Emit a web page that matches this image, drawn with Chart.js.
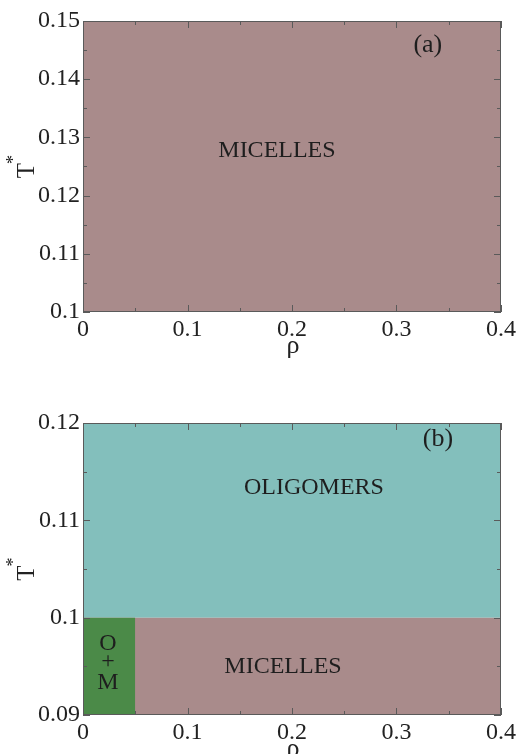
<!DOCTYPE html>
<html>
<head>
<meta charset="utf-8">
<script src="https://cdn.jsdelivr.net/npm/chart.js@4.4.0/dist/chart.umd.min.js"></script>
<style>
  html, body { margin: 0; padding: 0; background: #ffffff; }
  #wrap { position: relative; width: 516px; height: 754px; overflow: hidden; }
  .box { position: absolute; left: 0; width: 516px; }
</style>
</head>
<body>
<div id="wrap">
  <div class="box" style="top:0px;height:375px;"><canvas id="chartA"></canvas></div>
  <div class="box" style="top:380px;height:374px;"><canvas id="chartB"></canvas></div>
</div>
<script>
// axes
const rhoMin = 0;
const rhoMax = 0.4;
const rhoStep = 0.1;
const tempMinA = 0.1;
const tempMaxA = 0.15;
const tempMinB = 0.09;
const tempMaxB = 0.12;
const tempStep = 0.01;

// phase boundaries
const transitionT = 0.1;      // oligomers above, micelles below (panel b)
const omRhoLimit = 0.05;      // O+M coexistence for rho < 0.05

// region colours
const micellesColor = "#A98B8B";
const oligomersColor = "#83BFBC";
const omColor = "#4B8A48";

const serif = "'Times New Roman', 'Liberation Serif', Times, serif";
const frameColor = "#5a5a5a";

// draws frame, inward ticks (major + minor), axis titles and region labels
const framePlugin = {
  id: "frame",
  afterDraw(chart, args, opts) {
    const ctx = chart.ctx;
    const a = chart.chartArea;
    const xs = chart.scales.x;
    const ys = chart.scales.y;
    ctx.save();
    ctx.strokeStyle = frameColor;
    ctx.lineWidth = 1;
    ctx.strokeRect(a.left + 0.5, a.top + 0.5, a.right - a.left - 1, a.bottom - a.top - 1);

    ctx.beginPath();
    for (let v = xs.min; v <= xs.max + 1e-9; v += rhoStep / 2) {
      const px = Math.round(xs.getPixelForValue(v)) + 0.5;
      const major = Math.abs(Math.round(v / rhoStep) * rhoStep - v) < 1e-9;
      const len = major ? 7 : 4;
      ctx.moveTo(px, a.bottom);
      ctx.lineTo(px, a.bottom - len);
      ctx.moveTo(px, a.top);
      ctx.lineTo(px, a.top + len);
    }
    for (let v = ys.min; v <= ys.max + 1e-9; v += tempStep / 2) {
      const py = Math.round(ys.getPixelForValue(v)) + 0.5;
      const major = Math.abs(Math.round(v / tempStep) * tempStep - v) < 1e-9;
      const len = major ? 7 : 4;
      ctx.moveTo(a.left, py);
      ctx.lineTo(a.left + len, py);
      ctx.moveTo(a.right, py);
      ctx.lineTo(a.right - len, py);
    }
    ctx.stroke();

    // axis titles
    ctx.fillStyle = "#222";
    ctx.textAlign = "center";
    ctx.textBaseline = "alphabetic";
    ctx.font = "26px " + serif;
    ctx.fillText("ρ", (a.left + a.right) / 2 + 1, a.bottom + 41);

    const ty = (a.top + a.bottom) / 2 + 4;
    ctx.save();
    ctx.translate(27, ty);
    ctx.rotate(-Math.PI / 2);
    ctx.textBaseline = "middle";
    ctx.font = "25px " + serif;
    ctx.fillText("T", 0, 0);
    ctx.font = "18px " + serif;
    ctx.fillText("*", 11, -13);
    ctx.restore();

    // labels inside the plot
    ctx.fillStyle = "#1e1e1e";
    ctx.textBaseline = "middle";
    opts.labels.forEach((l) => {
      ctx.font = l.size + "px " + serif;
      ctx.fillText(l.text, xs.getPixelForValue(l.x), ys.getPixelForValue(l.y));
    });
    ctx.restore();
  },
};

function region(data, color, fill) {
  return {
    data: data,
    showLine: true,
    fill: fill,
    backgroundColor: color,
    borderColor: color,
    borderWidth: 0,
    pointRadius: 0,
  };
}

function makeChart(id, tMin, tMax, datasets, labels, padTop, xAxisHeight) {
  return new Chart(document.getElementById(id), {
    type: "scatter",
    data: { datasets: datasets },
    plugins: [framePlugin],
    options: {
      responsive: true,
      maintainAspectRatio: false,
      animation: false,
      events: [],
      layout: { padding: { top: padTop, right: 15, left: 0, bottom: 0 } },
      plugins: {
        legend: { display: false },
        tooltip: { enabled: false },
        frame: { labels: labels },
      },
      scales: {
        x: {
          type: "linear",
          min: rhoMin,
          max: rhoMax,
          border: { display: false },
          grid: { display: false, drawTicks: false },
          ticks: {
            stepSize: rhoStep,
            padding: 3,
            color: "#222",
            font: { family: serif, size: 24 },
            callback: (v) => +v.toFixed(2),
          },
          afterFit: (s) => {
            s.height = xAxisHeight;
            s.paddingLeft = 0;
            s.paddingRight = 0;
          },
        },
        y: {
          type: "linear",
          min: tMin,
          max: tMax,
          border: { display: false },
          grid: { display: false, drawTicks: false },
          ticks: {
            stepSize: tempStep,
            padding: 3,
            color: "#222",
            font: { family: serif, size: 24 },
            callback: (v) => +v.toFixed(2),
          },
          afterFit: (s) => {
            s.width = 83;
            s.paddingTop = 0;
            s.paddingBottom = 0;
          },
        },
      },
    },
  });
}

// panel (a): micelles everywhere
makeChart(
  "chartA",
  tempMinA,
  tempMaxA,
  [region([{ x: rhoMin, y: tempMaxA }, { x: rhoMax, y: tempMaxA }], micellesColor, "start")],
  [
    { text: "MICELLES", x: 0.1856, y: 0.1278, size: 24 },
    { text: "(a)", x: 0.330, y: 0.1459, size: 26 },
  ],
  21,
  63
);

// panel (b): oligomers above T = 0.1, O+M (drawn on top) and micelles below
makeChart(
  "chartB",
  tempMinB,
  tempMaxB,
  [
    region([{ x: rhoMin, y: transitionT }, { x: omRhoLimit, y: transitionT }], omColor, "start"),
    region([{ x: rhoMin, y: transitionT }, { x: rhoMax, y: transitionT }], micellesColor, "start"),
    region([{ x: rhoMin, y: transitionT }, { x: rhoMax, y: transitionT }], oligomersColor, "end"),
  ],
  [
    { text: "OLIGOMERS", x: 0.221, y: 0.1134, size: 24 },
    { text: "MICELLES", x: 0.1914, y: 0.0950, size: 24 },
    { text: "O", x: 0.0239, y: 0.0973, size: 24 },
    { text: "+", x: 0.0239, y: 0.0955, size: 24 },
    { text: "M", x: 0.0239, y: 0.0933, size: 24 },
    { text: "(b)", x: 0.3397, y: 0.1183, size: 26 },
  ],
  43,
  39
);
</script>
</body>
</html>
